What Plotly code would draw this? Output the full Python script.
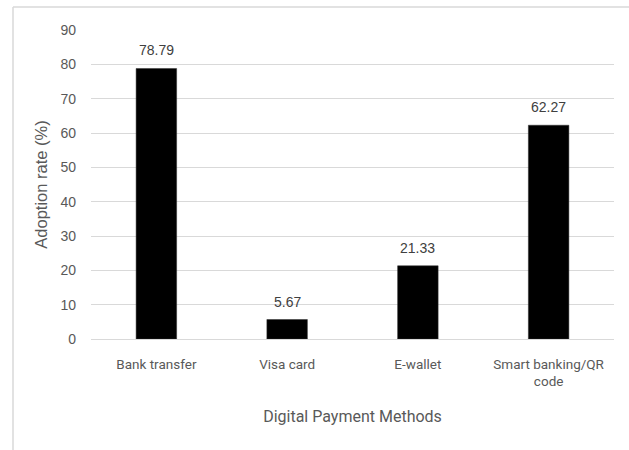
import plotly.graph_objects as go

categories = ["Bank transfer", "Visa card", "E-wallet", "Smart banking/QR<br>code"]
adoption = [78.79, 5.67, 21.33, 62.27]
labels = ["78.79", "5.67", "21.33", "62.27"]

W, H = 629, 450
L, R, T, B = 91, 15, 30, 111
pw, ph = W - L - R, H - T - B

fig = go.Figure(go.Bar(
    x=categories, y=adoption,
    marker=dict(color="#000000", line=dict(color="#333333", width=0.5)),
    width=0.31,
))
for c, v, t in zip(categories, adoption, labels):
    fig.add_annotation(x=c, y=v, text=t, showarrow=False, yanchor="bottom", yshift=8,
                       font=dict(family="Liberation Sans, Arial", size=14, color="#404040"))

bx0 = (13 - L) / pw
by1 = (H - B - 7) / ph
fig.add_shape(type="line", xref="paper", yref="paper", x0=bx0, x1=(W - L) / pw + 0.01,
              y0=by1, y1=by1, line=dict(color="#d9d9d9", width=1.5))
fig.add_shape(type="line", xref="paper", yref="paper", x0=bx0, x1=bx0,
              y0=by1, y1=-B / ph - 0.01, line=dict(color="#d9d9d9", width=1.5))

fig.update_layout(
    width=W, height=H, margin=dict(l=L, r=R, t=T, b=B),
    paper_bgcolor="white", plot_bgcolor="white", showlegend=False,
    font=dict(family="Liberation Sans, Arial", color="#595959"),
)
fig.update_xaxes(
    tickfont=dict(family="Roboto, Arial", size=13.5, color="#595959"),
    title=dict(text="Digital Payment Methods", standoff=22,
               font=dict(family="Roboto, Arial", size=16, color="#595959")),
    showline=False, ticks="", ticklabelstandoff=15,
)
fig.update_yaxes(
    range=[0, 90], dtick=10, tickfont=dict(size=14, color="#595959"),
    gridcolor="#d9d9d9", gridwidth=1.3, zeroline=True, zerolinecolor="#d9d9d9", zerolinewidth=1.3,
    showline=False, ticks="", ticklabelstandoff=14,
    title=dict(text="Adoption rate (%)", standoff=8, font=dict(size=16.5, color="#595959")),
)
fig.write_html("out.html")
